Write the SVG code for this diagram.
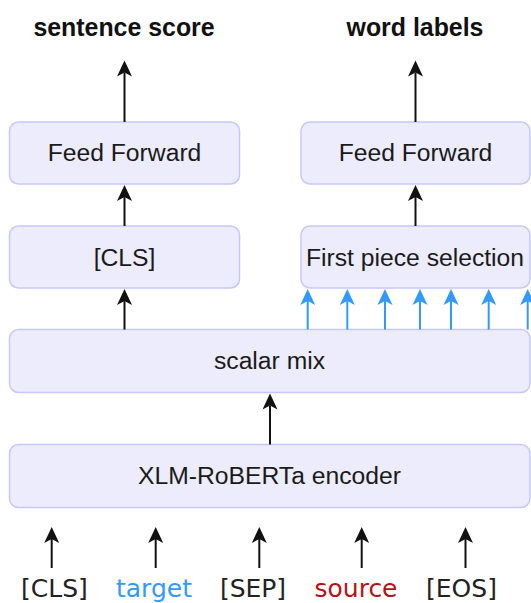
<svg xmlns="http://www.w3.org/2000/svg" width="531" height="603" viewBox="0 0 531 603">
<style>
.box{fill:#ECECFD;stroke:#C8C8F8;stroke-width:1.5}
.lbl{font-family:"Liberation Sans",Arial,sans-serif;font-size:24.7px;fill:#1a1a1a;text-anchor:middle}
.title{font-family:"Liberation Sans",Arial,sans-serif;font-size:24.9px;font-weight:bold;fill:#111;text-anchor:middle}
.tok{font-family:"DejaVu Sans",Verdana,sans-serif;font-size:25px;fill:#222;text-anchor:middle}
.blk{stroke:#111;stroke-width:2;fill:none;marker-end:url(#ah)}
.blu{stroke:#3399FF;stroke-width:2;fill:none;marker-end:url(#ahb)}
</style>
<defs>
<marker id="ah" markerUnits="userSpaceOnUse" markerWidth="20" markerHeight="20" viewBox="-6 -10 20 20" refX="0" refY="0" orient="auto">
<path d="M12,0 L-4,-7.5 L0,0 L-4,7.5 Z" fill="#111"/>
</marker>
<marker id="ahb" markerUnits="userSpaceOnUse" markerWidth="20" markerHeight="20" viewBox="-6 -10 20 20" refX="0" refY="0" orient="auto">
<path d="M12,0 L-4,-7.5 L0,0 L-4,7.5 Z" fill="#3399FF"/>
</marker>
</defs>
<text class="title" x="124" y="36">sentence score</text>
<text class="title" x="415" y="36">word labels</text>
<g id="ff-left"><rect class="box" x="9.5" y="122" width="230" height="62" rx="9"/><text class="lbl" x="124.5" y="161">Feed Forward</text></g>
<g id="cls-box"><rect class="box" x="9.5" y="226" width="230" height="62" rx="9"/><text class="lbl" x="124.5" y="265.5">[CLS]</text></g>
<g id="ff-right"><rect class="box" x="301" y="122" width="229" height="62" rx="9"/><text class="lbl" x="415.5" y="161">Feed Forward</text></g>
<g id="first-piece"><rect class="box" x="301" y="226" width="229" height="62" rx="9"/><text class="lbl" x="415" y="265.5">First piece selection</text></g>
<g id="scalar-mix"><rect class="box" x="9.5" y="329.5" width="520.5" height="63" rx="9"/><text class="lbl" x="269.5" y="369">scalar mix</text></g>
<g id="xlmr"><rect class="box" x="9.5" y="444.5" width="520.5" height="63" rx="9"/><text class="lbl" x="269.5" y="484">XLM-RoBERTa encoder</text></g>
<g id="tokens">
<text class="tok" x="54.5" y="597">[CLS]</text>
<text class="tok" x="154" y="597" style="fill:#3399FF">target</text>
<text class="tok" x="253" y="597">[SEP]</text>
<text class="tok" x="356" y="597" style="fill:#B5121B">source</text>
<text class="tok" x="461.5" y="597">[EOS]</text>
</g>
<g id="connectors">
<path class="blk" d="M124.5,122 V72.5"/>
<path class="blk" d="M124.5,226 V197"/>
<path class="blk" d="M124.5,329.5 V301"/>
<path class="blk" d="M415.5,122 V72.5"/>
<path class="blk" d="M415.5,226 V197"/>
<path class="blk" d="M270,444.5 V405.5"/>
<path class="blk" d="M51.7,568 V539"/>
<path class="blk" d="M155.7,568 V539"/>
<path class="blk" d="M259.3,568 V539"/>
<path class="blk" d="M361.7,568 V539"/>
<path class="blk" d="M465.5,568 V539"/>
<path class="blu" d="M307.7,329.5 V301"/>
<path class="blu" d="M347.3,329.5 V301"/>
<path class="blu" d="M385,329.5 V301"/>
<path class="blu" d="M420,329.5 V301"/>
<path class="blu" d="M451,329.5 V301"/>
<path class="blu" d="M488.7,329.5 V301"/>
<path class="blu" d="M527.7,329.5 V301"/>
</g>
</svg>
